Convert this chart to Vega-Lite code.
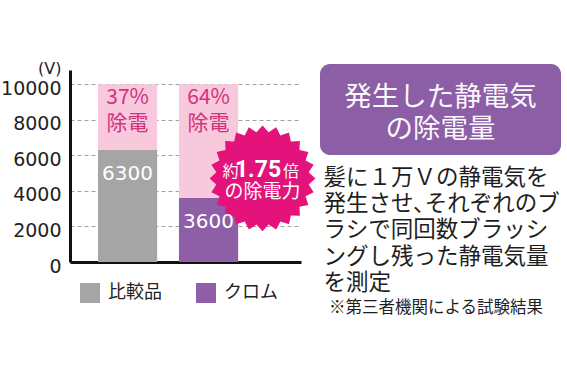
{
  "$schema": "https://vega.github.io/schema/vega-lite/v6.json",
  "autosize": {"type": "pad"},
  "padding": {"left": 0, "top": 60, "right": 4, "bottom": 5},
  "bounds": "flush",
  "spacing": 19,
  "background": "white",
  "config": {
    "view": {"stroke": null},
    "font": "Noto Sans CJK JP",
    "axis": {"labelOverlap": false}
  },
  "hconcat": [
    {
      "width": 231,
      "height": 192,
      "data": {"values": [
        {"name": "比較品", "value": 6300, "total": 10000, "pct": "37%", "cut": "除電"},
        {"name": "クロム", "value": 3600, "total": 10000, "pct": "64%", "cut": "除電"}
      ]},
      "encoding": {
        "x": {
          "field": "name", "type": "nominal", "sort": null,
          "scale": {"domain": ["比較品", "クロム"], "paddingInner": 0.27, "paddingOuter": 0.561, "align": 0.308},
          "axis": {"labels": false, "ticks": false, "title": null, "domainColor": "#111111", "domainWidth": 3, "grid": false}
        }
      },
      "layer": [
        {
          "mark": {"type": "bar", "color": "#f8c8dc"},
          "encoding": {
            "y": {
              "field": "total", "type": "quantitative",
              "scale": {"domain": [0, 10800], "nice": false},
              "title": "(V)",
              "axis": {
                "values": [0, 2000, 4000, 6000, 8000, 10000], "tickCount": 6, "format": "d",
                "ticks": false, "domainColor": "#111111", "domainWidth": 3, "labelOverlap": false, "labelFlush": false,
                "grid": true, "gridDash": [4, 3], "gridColor": "#a0a0a0", "gridWidth": 1,
                "labelFont": "DejaVu Sans", "labelFontSize": 19, "labelColor": "#222222", "labelPadding": 9, "labelOffset": 4,
                "titleAngle": 0, "titleAlign": "right", "titleBaseline": "middle", "titleX": -9, "titleY": -1.5,
                "titleFont": "DejaVu Sans", "titleFontSize": 16, "titleFontWeight": "normal", "titleColor": "#222222"
              }
            }
          }
        },
        {
          "mark": {"type": "bar"},
          "encoding": {
            "y": {"field": "value", "type": "quantitative"},
            "color": {
              "field": "name", "type": "nominal",
              "scale": {"domain": ["比較品", "クロム"], "range": ["#a5a5a5", "#8e5fa7"]},
              "legend": {
                "title": null, "orient": "none", "direction": "horizontal", "legendX": 10, "legendY": 213,
                "padding": 0, "symbolType": "square", "symbolSize": 400, "symbolStrokeWidth": 0,
                "labelFontSize": 18, "labelColor": "#222222", "labelOffset": 8, "columnPadding": 34
              }
            }
          }
        },
        {
          "mark": {"type": "text", "color": "#d6317f", "fontSize": 21, "baseline": "middle", "dy": 14},
          "encoding": {"y": {"field": "total", "type": "quantitative"}, "text": {"field": "pct"}}
        },
        {
          "mark": {"type": "text", "color": "#d6317f", "fontSize": 21, "baseline": "middle", "dy": 40},
          "encoding": {"y": {"field": "total", "type": "quantitative"}, "text": {"field": "cut"}}
        },
        {
          "transform": [{"filter": "datum.name === 'クロム'"}],
          "mark": {
            "type": "point", "filled": true, "opacity": 1, "color": "#e3137b", "size": 11200,
            "shape": "M1,0L0.8725,0.1149L0.9659,0.2588L0.813,0.3368L0.866,0.5L0.6981,0.5357L0.7071,0.7071L0.5357,0.6981L0.5,0.866L0.3368,0.813L0.2588,0.9659L0.1149,0.8725L0,1L-0.1149,0.8725L-0.2588,0.9659L-0.3368,0.813L-0.5,0.866L-0.5357,0.6981L-0.7071,0.7071L-0.6981,0.5357L-0.866,0.5L-0.813,0.3368L-0.9659,0.2588L-0.8725,0.1149L-1,0L-0.8725,-0.1149L-0.9659,-0.2588L-0.813,-0.3368L-0.866,-0.5L-0.6981,-0.5357L-0.7071,-0.7071L-0.5357,-0.6981L-0.5,-0.866L-0.3368,-0.813L-0.2588,-0.9659L-0.1149,-0.8725L0,-1L0.1149,-0.8725L0.2588,-0.9659L0.3368,-0.813L0.5,-0.866L0.5357,-0.6981L0.7071,-0.7071L0.6981,-0.5357L0.866,-0.5L0.813,-0.3368L0.9659,-0.2588L0.8725,-0.1149Z"
          },
          "encoding": {
            "x": {"field": "name", "type": "nominal", "bandPosition": 1.413},
            "y": {"datum": 4700, "type": "quantitative"}
          }
        },
        {
          "mark": {"type": "text", "color": "#ffffff", "font": "DejaVu Sans", "fontSize": 20, "baseline": "middle", "dy": 24},
          "encoding": {"y": {"field": "value", "type": "quantitative"}, "text": {"field": "value", "format": "d"}}
        },
        {
          "transform": [{"filter": "datum.name === 'クロム'"}],
          "mark": {"type": "text", "color": "#ffffff", "fontSize": 16, "baseline": "alphabetic", "dx": -32, "dy": -1},
          "encoding": {
            "x": {"field": "name", "type": "nominal", "bandPosition": 1.413},
            "y": {"datum": 4700, "type": "quantitative"},
            "text": {"value": "約"}
          }
        },
        {
          "transform": [{"filter": "datum.name === 'クロム'"}],
          "mark": {"type": "text", "color": "#ffffff", "font": "Roboto", "fontWeight": "bold", "fontSize": 23, "baseline": "alphabetic", "dx": -4.5, "dy": -1},
          "encoding": {
            "x": {"field": "name", "type": "nominal", "bandPosition": 1.413},
            "y": {"datum": 4700, "type": "quantitative"},
            "text": {"value": "1.75"}
          }
        },
        {
          "transform": [{"filter": "datum.name === 'クロム'"}],
          "mark": {"type": "text", "color": "#ffffff", "fontSize": 16, "baseline": "alphabetic", "dx": 28.5, "dy": -1},
          "encoding": {
            "x": {"field": "name", "type": "nominal", "bandPosition": 1.413},
            "y": {"datum": 4700, "type": "quantitative"},
            "text": {"value": "倍"}
          }
        },
        {
          "transform": [{"filter": "datum.name === 'クロム'"}],
          "mark": {"type": "text", "color": "#ffffff", "fontSize": 19, "baseline": "middle", "dx": 0, "dy": 13.5},
          "encoding": {
            "x": {"field": "name", "type": "nominal", "bandPosition": 1.413},
            "y": {"datum": 4700, "type": "quantitative"},
            "text": {"value": "の除電力"}
          }
        }
      ]
    },
    {
      "width": 241,
      "height": 192,
      "data": {"values": [
        {"part": "title", "text": "発生した静電気\nの除電量"},
        {"part": "body", "text": "髪に１万Ｖの静電気を\n発生させ､それぞれのブ\nラシで同回数ブラッシ\nングし残った静電気量\nを測定"},
        {"part": "note", "text": "※第三者機関による試験結果"}
      ]},
      "layer": [
        {
          "transform": [{"filter": "datum.part === 'title'"}],
          "mark": {"type": "rect", "color": "#8b5ea5", "cornerRadius": 10},
          "encoding": {
            "x": {"datum": 0, "type": "quantitative", "scale": {"domain": [0, 100]}, "axis": null},
            "x2": {"datum": 100},
            "y": {"datum": -3.1, "type": "quantitative", "scale": {"domain": [0, 100], "reverse": true}, "axis": null},
            "y2": {"datum": 44.3}
          }
        },
        {
          "transform": [{"filter": "datum.part === 'title'"}],
          "mark": {"type": "text", "color": "#fbf7fc", "fontSize": 27.5, "lineBreak": "\n", "lineHeight": 32, "align": "center", "baseline": "middle"},
          "encoding": {
            "x": {"datum": 50, "type": "quantitative"},
            "y": {"datum": 14.6, "type": "quantitative"},
            "text": {"field": "text"}
          }
        },
        {
          "transform": [{"filter": "datum.part === 'body'"}],
          "mark": {"type": "text", "color": "#1e1e1e", "fontSize": 22.5, "lineBreak": "\n", "lineHeight": 26.2, "align": "left", "baseline": "middle"},
          "encoding": {
            "x": {"datum": 1.5, "type": "quantitative"},
            "y": {"datum": 56.3, "type": "quantitative"},
            "text": {"field": "text"}
          }
        },
        {
          "transform": [{"filter": "datum.part === 'note'"}],
          "mark": {"type": "text", "color": "#1e1e1e", "fontSize": 16.5, "align": "left", "baseline": "middle"},
          "encoding": {
            "x": {"datum": 3.7, "type": "quantitative"},
            "y": {"datum": 124, "type": "quantitative"},
            "text": {"field": "text"}
          }
        }
      ]
    }
  ]
}
